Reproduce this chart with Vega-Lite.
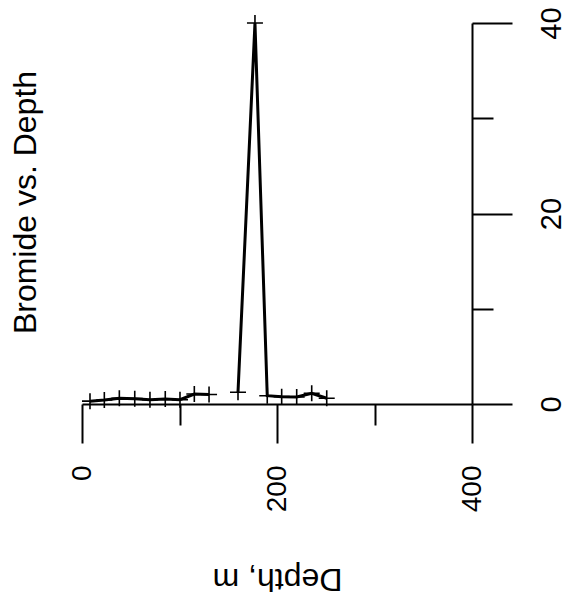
{
  "$schema": "https://vega.github.io/schema/vega-lite/v6.json",
  "width": 390,
  "height": 381,
  "autosize": {"type": "none"},
  "padding": {"left": 82, "top": 23, "right": 105, "bottom": 197},
  "background": "white",
  "title": {
    "text": "Bromide vs. Depth",
    "orient": "left",
    "anchor": "middle",
    "fontSize": 32,
    "font": "Liberation Sans",
    "fontWeight": "normal",
    "color": "black",
    "offset": 25,
    "dx": 11
  },
  "config": {"view": {"stroke": null}, "font": "Liberation Sans"},
  "data": {
    "values": [
      {"depth": 8.2, "bromide": 0.3},
      {"depth": 22.9, "bromide": 0.42},
      {"depth": 38.3, "bromide": 0.6},
      {"depth": 54.1, "bromide": 0.56},
      {"depth": 69.7, "bromide": 0.45},
      {"depth": 85.4, "bromide": 0.52},
      {"depth": 100.5, "bromide": 0.45},
      {"depth": 115.2, "bromide": 1.05},
      {"depth": 130.3, "bromide": 1.0},
      {"depth": 145, "bromide": null},
      {"depth": 160, "bromide": 1.23},
      {"depth": 177.4, "bromide": 40.0},
      {"depth": 190, "bromide": 0.87},
      {"depth": 204.8, "bromide": 0.77},
      {"depth": 220.2, "bromide": 0.73},
      {"depth": 235.6, "bromide": 1.12},
      {"depth": 251, "bromide": 0.6}
    ]
  },
  "encoding": {
    "x": {
      "field": "depth",
      "type": "quantitative",
      "scale": {"domain": [0, 400], "nice": false, "zero": false},
      "axis": {
        "values": [0, 100, 200, 300, 400],
        "labelExpr": "datum.value % 200 === 0 ? datum.label : ''",
        "tickSize": {"condition": {"test": "datum.value % 200 === 0", "value": 39}, "value": 21},
        "labelAngle": -90,
        "labelAlign": "right",
        "labelBaseline": "middle",
        "labelPadding": 22,
        "labelFontSize": 28,
        "labelFont": "Liberation Sans",
        "labelColor": "black",
        "labelFlush": false,
        "labelOverlap": false,
        "domainColor": "black",
        "domainWidth": 2,
        "tickColor": "black",
        "tickWidth": 2,
        "grid": false,
        "title": "Depth, m",
        "titleAngle": 180,
        "titleBaseline": "bottom",
        "titleFont": "Liberation Sans",
        "titleFontSize": 32,
        "titleFontWeight": "normal",
        "titleColor": "black",
        "titlePadding": 50
      }
    },
    "y": {
      "field": "bromide",
      "type": "quantitative",
      "scale": {"domain": [0, 40], "nice": false},
      "axis": {
        "orient": "right",
        "values": [0, 10, 20, 30, 40],
        "labelExpr": "datum.value % 20 === 0 ? datum.label : ''",
        "tickSize": {"condition": {"test": "datum.value % 20 === 0", "value": 40}, "value": 21},
        "labelAngle": -90,
        "labelAlign": "center",
        "labelBaseline": "top",
        "labelPadding": 25,
        "labelFontSize": 29,
        "labelFont": "Liberation Sans",
        "labelColor": "black",
        "labelFlush": false,
        "labelOverlap": false,
        "domainColor": "black",
        "domainWidth": 2,
        "tickColor": "black",
        "tickWidth": 2,
        "grid": false,
        "title": null
      }
    }
  },
  "layer": [
    {
      "mark": {"type": "line", "color": "black", "strokeWidth": 3, "invalid": "break-paths-filter-domains"}
    },
    {
      "mark": {"type": "point", "shape": "M-1,0H1M0,-1V1", "size": 256, "filled": false, "color": "black", "strokeWidth": 1.6, "opacity": 1}
    }
  ]
}
